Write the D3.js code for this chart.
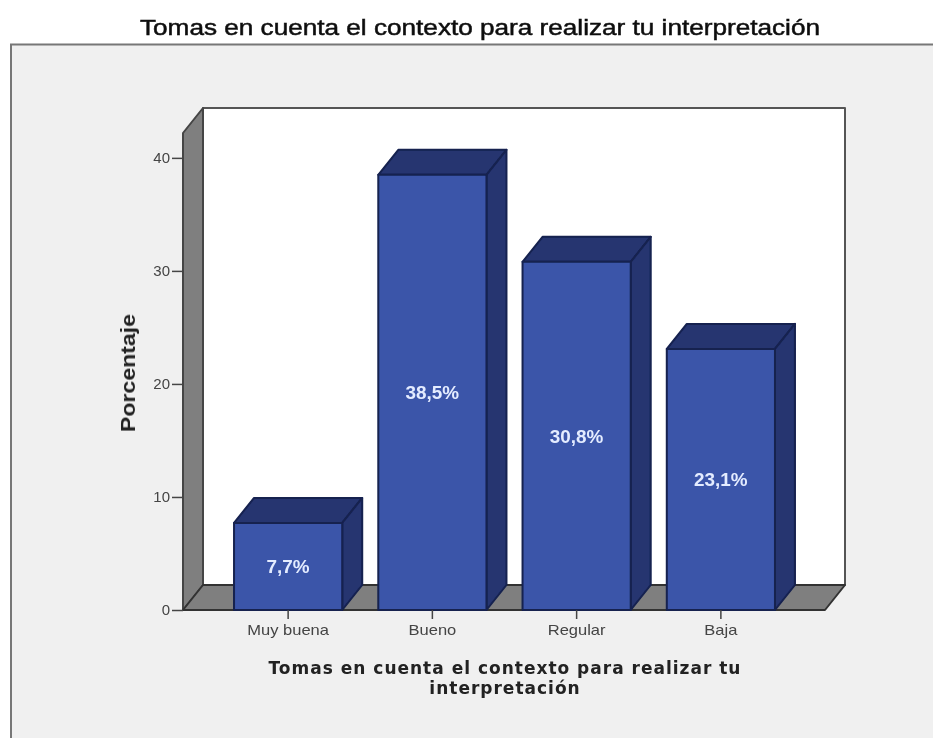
<!DOCTYPE html>
<html>
<head>
<meta charset="utf-8">
<script src="https://cdn.jsdelivr.net/npm/d3@7"></script>
<style>
html, body { margin: 0; padding: 0; background: #fff; }
svg { display: block; }
text { font-family: "Liberation Sans", Arial, sans-serif; }
</style>
</head>
<body>
<script>
var categories = ["Muy buena", "Bueno", "Regular", "Baja"];
var percentages = [7.7, 38.5, 30.8, 23.1];
var valueLabels = ["7,7%", "38,5%", "30,8%", "23,1%"];
var yTicks = [0, 10, 20, 30, 40];
var yMax = 42.2;
var chartTitle = "Tomas en cuenta el contexto para realizar tu interpretación";
var xTitleLines = ["Tomas en cuenta el contexto para realizar tu", "interpretación"];
var yTitle = "Porcentaje";

var width = 933, height = 738;
var depthX = 20, depthY = -25;

var x = d3.scaleBand().domain(categories).range([216, 793]).paddingInner(0.25).paddingOuter(0.125);
var y = d3.scaleLinear().domain([0, yMax]).range([610, 133]);

var svg = d3.select("body").append("svg").attr("width", width).attr("height", height);

var defs = svg.append("defs");
defs.append("filter").attr("id", "soft").attr("x", "-5%").attr("y", "-5%").attr("width", "110%").attr("height", "110%").
  append("feGaussianBlur").attr("stdDeviation", 0.75);

var root = svg.append("g").attr("filter", "url(#soft)");

// panel
root.append("rect").attr("x", 11).attr("y", 44.5).attr("width", 940).attr("height", 720).
  attr("fill", "#f0f0f0").attr("stroke", "#777").attr("stroke-width", 2);

var left = 183, right = 825;
var bottom = y(0), top_ = y(yMax);

function poly(g, pts, fill, stroke) {
  return g.append("polygon").
    attr("points", pts.map(function(p) { return p.join(","); }).join(" ")).
    attr("fill", fill).
    attr("stroke", stroke || "#333").
    attr("stroke-width", 2).
    attr("stroke-linejoin", "round");
}

// back wall, side wall and floor
poly(root, [[left + depthX, top_ + depthY], [right + depthX, top_ + depthY], [right + depthX, bottom + depthY], [left + depthX, bottom + depthY]], "#fff", "#555");
poly(root, [[left, top_], [left + depthX, top_ + depthY], [left + depthX, bottom + depthY], [left, bottom]], "#7f7f7f", "#444");
poly(root, [[left, bottom], [left + depthX, bottom + depthY], [right + depthX, bottom + depthY], [right, bottom]], "#7f7f7f", "#333");

// bars
var bars = root.selectAll("g.bar").
  data(categories).
  enter().append("g").
  attr("class", "bar");

bars.each(function(c, i) {
  var g = d3.select(this);
  var x0 = x(c), x1 = x(c) + x.bandwidth();
  var yTop = y(percentages[i]);
  poly(g, [[x0, yTop], [x0 + depthX, yTop + depthY], [x1 + depthX, yTop + depthY], [x1, yTop]], "#25346f", "#14204f");
  poly(g, [[x1, yTop], [x1 + depthX, yTop + depthY], [x1 + depthX, bottom + depthY], [x1, bottom]], "#25346f", "#14204f");
  poly(g, [[x0, yTop], [x1, yTop], [x1, bottom], [x0, bottom]], "#3b55a9", "#14204f");
  g.append("text").
    attr("transform", "translate(" + (x0 + x1) / 2 + "," + ((yTop + bottom) / 2 + 7) + ") scale(1.05,1)").
    attr("text-anchor", "middle").
    attr("font-size", 18).
    attr("font-weight", "bold").
    attr("fill", "#e4ecff").
    text(valueLabels[i]);
});

// axes
var yAxis = root.append("g").
  attr("transform", "translate(" + left + ",0)").
  call(d3.axisLeft(y).tickValues(yTicks).tickSize(11).tickPadding(2));
yAxis.select(".domain").remove();
yAxis.selectAll("line").attr("stroke", "#444").attr("stroke-width", 1.5);
yAxis.selectAll("text").attr("font-size", 15).attr("fill", "#444").attr("font-family", "Liberation Sans");

var xAxis = root.append("g").
  attr("transform", "translate(0," + bottom + ")").
  call(d3.axisBottom(x).tickSize(9).tickPadding(6));
xAxis.select(".domain").remove();
xAxis.selectAll("line").attr("stroke", "#444").attr("stroke-width", 1.5);
xAxis.selectAll("text").
  attr("font-size", 14).
  attr("fill", "#444").
  attr("font-family", "Liberation Sans").
  attr("transform", "scale(1.18,1)").
  attr("x", 0);

// titles
root.append("text").
  attr("x", 480).attr("y", 35).
  attr("text-anchor", "middle").
  attr("font-size", 22).
  attr("fill", "#111").
  attr("stroke", "#111").
  attr("stroke-width", 0.5).
  attr("textLength", 680).
  attr("lengthAdjust", "spacingAndGlyphs").
  text(chartTitle);

root.selectAll("text.xtitle").
  data(xTitleLines).
  enter().append("text").
  attr("class", "xtitle").
  attr("x", 505).
  attr("y", function(d, i) { return 674 + i * 20; }).
  attr("text-anchor", "middle").
  attr("font-size", 17).
  attr("font-weight", "bold").
  attr("fill", "#222").
  style("font-family", "DejaVu Sans").
  style("letter-spacing", "1px").
  text(function(d) { return d; });

root.append("text").
  attr("transform", "translate(135,373) rotate(-90) scale(1.1,1)").
  attr("text-anchor", "middle").
  attr("font-size", 21).
  attr("font-weight", "bold").
  attr("fill", "#222").
  text(yTitle);
</script>
</body>
</html>
